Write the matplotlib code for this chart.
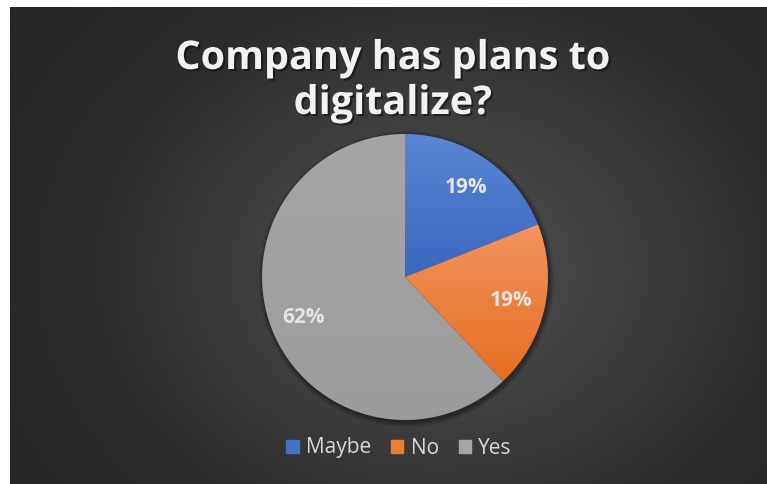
import numpy as np
import matplotlib
matplotlib.use("Agg")
import matplotlib.pyplot as plt
import matplotlib.patheffects as pe
from matplotlib.patches import Rectangle, Circle
from matplotlib.colors import LinearSegmentedColormap

# Survey answers
categories = ["Maybe", "No", "Yes"]
shares = [19, 19, 62]
title = "Company has plans to\ndigitalize?"

W, H, DPI = 767, 484, 100
fig = plt.figure(figsize=(W / DPI, H / DPI), dpi=DPI, facecolor="white")

# Background panel with a soft radial glow behind the pie
bg = fig.add_axes([0, 0, 1, 1])
bg.set_xlim(0, W)
bg.set_ylim(H, 0)
bg.axis("off")
x0, x1, y0, y1 = 10, 767, 7, 484
xx, yy = np.meshgrid(np.linspace(x0, x1, 400), np.linspace(y0, y1, 260))
d = np.sqrt(((xx - 440) / 520) ** 2 + ((yy - 270) / 420) ** 2)
d = np.clip(d, 0, 1)
bg_cmap = LinearSegmentedColormap.from_list("bg", ["#555555", "#404040", "#2c2c2c", "#262626"])
bg.imshow(d, cmap=bg_cmap, extent=(x0, x1, y1, y0), aspect="auto", vmin=0, vmax=1, zorder=0)

# Title
fig.text(393 / W, 1 - 81 / H, title, ha="center", va="center", fontsize=28.5,
         fontweight="bold", family=["Open Sans", "DejaVu Sans"], color="#f2f2f2",
         linespacing=1.2,
         path_effects=[pe.withSimplePatchShadow(offset=(1.5, -1.5), shadow_rgbFace="black", alpha=0.45)])

# Pie
cx, cy, r = 405, 277, 143
ax = fig.add_axes([0, 0, 1, 1])
ax.set_facecolor("none")

# soft outer shadow
for k, a in zip(range(6), [0.05, 0.05, 0.06, 0.07, 0.08, 0.1]):
    ax.add_patch(Circle((0.01, -0.015), 1.0 + 0.035 * (6 - k) / 6, color="black", alpha=a, lw=0, zorder=0))

wedges, texts, autotexts = ax.pie(
    shares, startangle=90, counterclock=False, radius=1.0,
    autopct="%.0f%%", pctdistance=0.76,
    wedgeprops=dict(linewidth=0),
    textprops=dict(color="#e4e4e4", fontsize=15, fontweight="bold",
                   family=["Open Sans", "DejaVu Sans"]),
)

gradients = [
    ["#5b86d6", "#3a67bf"],
    ["#f29460", "#e56e20"],
    ["#a6a6a6", "#9c9c9c"],
]
grad = np.linspace(0, 1, 256).reshape(-1, 1)
for w, cols in zip(wedges, gradients):
    ext = w.get_path().get_extents()
    w.set_facecolor("none")
    cm = LinearSegmentedColormap.from_list("g", cols)
    im = ax.imshow(grad, cmap=cm, extent=(ext.x0, ext.x1, ext.y0, ext.y1),
                   origin="upper", aspect="auto", zorder=1)
    im.set_clip_path(w)

for t in autotexts:
    t.set_zorder(5)

ax.set_xlim(-1.05, 1.05)
ax.set_ylim(-1.05, 1.05)
ax.set_aspect("equal")
ax.axis("off")
# radius 1 maps to r pixels around the centre point
ax.set_position([(cx - r * 1.05) / W, (H - cy - r * 1.05) / H, 2.1 * r / W, 2.1 * r / H])

# Legend
legend_colors = ["#4472c4", "#ed7d31", "#a5a5a5"]
handles = [Rectangle((0, 0), 1, 1, color=c) for c in legend_colors]
leg = fig.legend(handles, categories, loc="center", bbox_to_anchor=(399 / W, 1 - 448 / H),
                 ncol=3, frameon=False, handlelength=0.6, handleheight=0.6,
                 handletextpad=0.35, columnspacing=0.95,
                 prop=dict(family=["Open Sans", "DejaVu Sans"], size=15))
for t in leg.get_texts():
    t.set_color("#d9d9d9")

fig.savefig("out.png", dpi=DPI, facecolor="white")
